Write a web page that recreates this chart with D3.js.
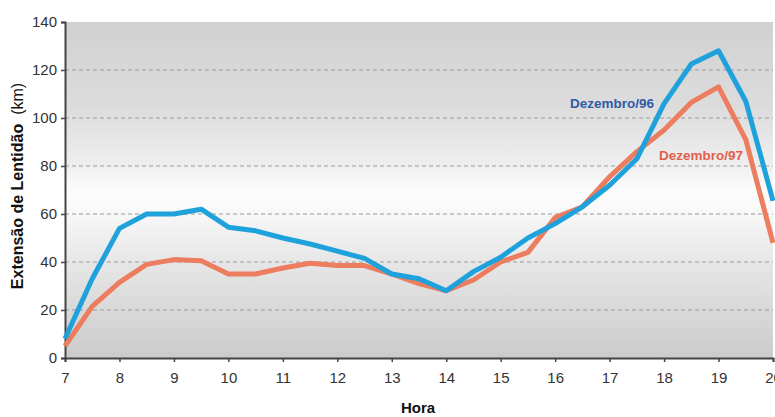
<!DOCTYPE html>
<html>
<head>
<meta charset="utf-8">
<script src="https://cdn.jsdelivr.net/npm/d3@7"></script>
<style>
  html, body { margin: 0; padding: 0; background: #fff; }
  svg { display: block; font-family: "Liberation Sans", Arial, sans-serif; }
</style>
</head>
<body>
<svg id="chart" width="775" height="417"></svg>
<script>
// Half-hour readings from 7:00 to 20:00
const hours = [7, 7.5, 8, 8.5, 9, 9.5, 10, 10.5, 11, 11.5, 12, 12.5, 13, 13.5,
               14, 14.5, 15, 15.5, 16, 16.5, 17, 17.5, 18, 18.5, 19, 19.5, 20];
const dez96 = [8, 33, 54, 60, 60, 62, 54.5, 53, 50, 47.5, 44.5, 41.5, 35, 33,
               28, 36, 42, 50, 56, 63, 72, 83, 106, 122.5, 128, 107, 65.5];
const dez97 = [5, 21.5, 31.5, 39, 41, 40.5, 35, 35, 37.5, 39.5, 38.5, 38.5, 35, 31,
               28, 32.5, 40, 44, 58.5, 63, 75.5, 86, 95, 106.5, 113, 91, 48];
const xTicks = [7, 8, 9, 10, 11, 12, 13, 14, 15, 16, 17, 18, 19, 20];
const yTicks = [0, 20, 40, 60, 80, 100, 120, 140];
const seriesNames = ["Dezembro/96", "Dezembro/97"];

const svg = d3.select("#chart");
const m = { left: 65, right: 773, top: 22, bottom: 358 };

const x = d3.scaleLinear().domain([7, 20]).range([m.left, m.right]);
const y = d3.scaleLinear().domain([0, 140]).range([m.bottom, m.top]);

// Plot background: grey at top and bottom, fading to white in the middle
const defs = svg.append("defs");
const grad = defs.append("linearGradient")
  .attr("id", "bg").attr("x1", 0).attr("y1", 0).attr("x2", 0).attr("y2", 1);
[[0, "#d1d1d1"], [0.25, "#dcdcdc"], [0.42, "#eeeeee"], [0.5, "#fcfcfc"],
 [0.54, "#fbfbfb"], [0.7, "#e8e8e8"], [1, "#cbcbcb"]]
  .forEach(([o, c]) => grad.append("stop").attr("offset", o).attr("stop-color", c));

svg.append("rect")
  .attr("x", m.left).attr("y", m.top)
  .attr("width", m.right - m.left).attr("height", m.bottom - m.top)
  .attr("fill", "url(#bg)");

// Dashed horizontal gridlines
svg.append("g")
  .selectAll("line")
  .data(yTicks.filter(d => d > 0 && d < 140))
  .join("line")
  .attr("x1", m.left).attr("x2", m.right)
  .attr("y1", d => y(d)).attr("y2", d => y(d))
  .attr("stroke", "#9a9a9a").attr("stroke-width", 1)
  .attr("stroke-dasharray", "4,3");

// Axes
const yAxis = svg.append("g")
  .attr("transform", `translate(${m.left},0)`)
  .call(d3.axisLeft(y).tickValues(yTicks).tickSize(4).tickPadding(4));
const xAxis = svg.append("g")
  .attr("transform", `translate(0,${m.bottom})`)
  .call(d3.axisBottom(x).tickValues(xTicks).tickSize(4).tickPadding(10));

[yAxis, xAxis].forEach(g => {
  g.select(".domain").attr("stroke", "#444").attr("stroke-width", 2);
  g.selectAll(".tick line").attr("stroke", "#444").attr("stroke-width", 1.5);
  g.selectAll(".tick text")
    .attr("fill", "#333").attr("font-size", 15)
    .attr("font-family", "'Liberation Sans', Arial, sans-serif");
});

// Series lines
const line = d3.line().x((d, i) => x(hours[i])).y(d => y(d));
const series = [
  { values: dez96, color: "#1fa2dc" },
  { values: dez97, color: "#ec7d5e" }
];
// Draw 97 first so 96 sits on top where they cross
[series[1], series[0]].forEach(s => {
  svg.append("path")
    .datum(s.values)
    .attr("d", line)
    .attr("fill", "none")
    .attr("stroke", s.color)
    .attr("stroke-width", 5)
    .attr("stroke-linejoin", "round")
    .attr("stroke-linecap", "butt");
});

// Series labels
svg.append("text")
  .attr("x", 612).attr("y", 108)
  .attr("text-anchor", "middle")
  .attr("font-size", 13.5).attr("font-weight", "bold")
  .attr("fill", "#2f5aa8")
  .text(seriesNames[0]);
svg.append("text")
  .attr("x", 701).attr("y", 160)
  .attr("text-anchor", "middle")
  .attr("font-size", 13.5).attr("font-weight", "bold")
  .attr("fill", "#e0604c")
  .text(seriesNames[1]);

// Axis titles
const yTitle = svg.append("text")
  .attr("transform", "translate(23,186) rotate(-90)")
  .attr("text-anchor", "middle")
  .attr("font-size", 16)
  .attr("fill", "#111");
yTitle.append("tspan").attr("font-weight", "bold").text("Extensão de Lentidão");
yTitle.append("tspan").attr("font-weight", "normal").text("\u00a0 (km)");

svg.append("text")
  .attr("x", 418).attr("y", 413)
  .attr("text-anchor", "middle")
  .attr("font-size", 15).attr("font-weight", "bold")
  .attr("fill", "#111")
  .text("Hora");
</script>
</body>
</html>
